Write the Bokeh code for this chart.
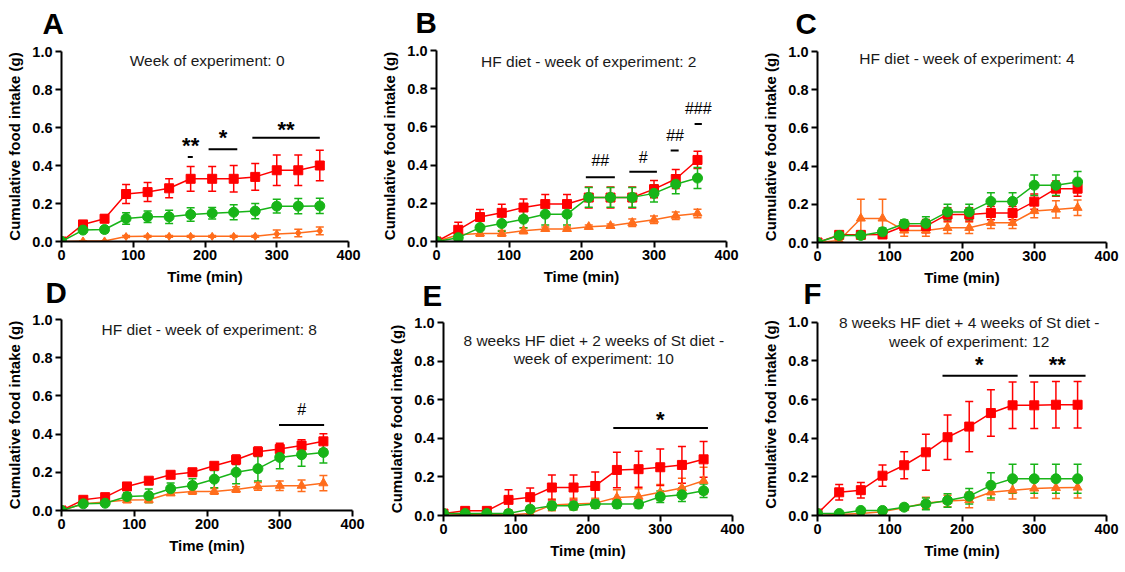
from bokeh.plotting import figure
from bokeh.models import (Range1d, FixedTicker, NumeralTickFormatter, Label,
                          Whisker, TeeHead, ColumnDataSource)
from bokeh.layouts import row, column
from bokeh.embed import file_html
from bokeh.resources import INLINE

FONT = "Liberation Sans"
RED = "#ff0000"
GREEN = "#18b418"
ORANGE = "#ff6d1c"

time_min = [0, 30, 60, 90, 120, 150, 180, 210, 240, 270, 300, 330, 360]

# ---- Panel A ----
A_red = [0, 0.09, 0.12, 0.25, 0.26, 0.28, 0.33, 0.33, 0.33, 0.34, 0.375, 0.375, 0.40]
A_red_err = [0, 0.01, 0.02, 0.05, 0.05, 0.05, 0.065, 0.065, 0.07, 0.07, 0.08, 0.08, 0.08]
A_green = [0, 0.06, 0.063, 0.121, 0.13, 0.13, 0.142, 0.149, 0.154, 0.16, 0.186, 0.186, 0.187]
A_green_err = [0, 0.01, 0.015, 0.03, 0.03, 0.035, 0.035, 0.03, 0.04, 0.04, 0.036, 0.04, 0.04]
A_orange = [0, 0.003, 0.003, 0.026, 0.027, 0.027, 0.027, 0.027, 0.027, 0.027, 0.04, 0.045, 0.056]
A_orange_err = [0, 0, 0, 0.005, 0.005, 0.005, 0.005, 0.005, 0.005, 0.005, 0.02, 0.02, 0.02]

# ---- Panel B ----
B_red = [0, 0.061, 0.128, 0.15, 0.178, 0.196, 0.196, 0.23, 0.23, 0.23, 0.274, 0.327, 0.427]
B_red_err = [0, 0.04, 0.04, 0.045, 0.045, 0.05, 0.05, 0.055, 0.055, 0.055, 0.045, 0.05, 0.045]
B_green = [0, 0.02, 0.073, 0.094, 0.117, 0.143, 0.143, 0.231, 0.231, 0.231, 0.252, 0.30, 0.332]
B_green_err = [0, 0.01, 0.035, 0.04, 0.045, 0.057, 0.057, 0.052, 0.052, 0.052, 0.045, 0.05, 0.055]
B_orange = [0, 0.035, 0.042, 0.042, 0.056, 0.066, 0.066, 0.077, 0.082, 0.098, 0.114, 0.135, 0.147]
B_orange_err = [0, 0.005, 0.015, 0.015, 0.015, 0.01, 0.01, 0.01, 0.01, 0.02, 0.02, 0.02, 0.022]

# ---- Panel C ----
C_red = [0, 0.04, 0.04, 0.042, 0.086, 0.086, 0.147, 0.147, 0.154, 0.154, 0.214, 0.282, 0.282]
C_red_err = [0, 0.01, 0.01, 0.01, 0.03, 0.035, 0.035, 0.035, 0.035, 0.035, 0.04, 0.04, 0.04]
C_green = [0, 0.037, 0.037, 0.056, 0.098, 0.10, 0.16, 0.16, 0.215, 0.215, 0.30, 0.30, 0.317]
C_green_err = [0, 0.01, 0.01, 0.02, 0.02, 0.035, 0.04, 0.04, 0.045, 0.045, 0.054, 0.054, 0.055]
C_orange = [0, 0.01, 0.126, 0.126, 0.063, 0.063, 0.077, 0.077, 0.103, 0.103, 0.165, 0.173, 0.182]
C_orange_err = [0, 0.01, 0.1, 0.1, 0.03, 0.03, 0.03, 0.03, 0.03, 0.03, 0.035, 0.045, 0.04]

# ---- Panel D ----
D_red = [0, 0.056, 0.07, 0.126, 0.156, 0.187, 0.2, 0.234, 0.266, 0.308, 0.322, 0.34, 0.362]
D_red_err = [0, 0.01, 0.01, 0.01, 0.015, 0.015, 0.02, 0.015, 0.025, 0.025, 0.03, 0.03, 0.04]
D_green = [0, 0.035, 0.038, 0.073, 0.077, 0.114, 0.131, 0.164, 0.2, 0.219, 0.278, 0.292, 0.304]
D_green_err = [0, 0.01, 0.01, 0.02, 0.035, 0.03, 0.035, 0.045, 0.06, 0.065, 0.06, 0.06, 0.055]
D_orange = [0, 0.035, 0.045, 0.055, 0.056, 0.09, 0.10, 0.10, 0.11, 0.126, 0.13, 0.13, 0.143]
D_orange_err = [0, 0.005, 0.005, 0.015, 0.015, 0.01, 0.015, 0.015, 0.015, 0.02, 0.025, 0.03, 0.04]

# ---- Panel E ----
E_red = [0.01, 0.024, 0.024, 0.081, 0.095, 0.145, 0.145, 0.153, 0.236, 0.24, 0.25, 0.262, 0.291]
E_red_err = [0.01, 0.01, 0.01, 0.052, 0.048, 0.065, 0.065, 0.073, 0.092, 0.093, 0.095, 0.095, 0.093]
E_green = [0.01, 0.01, 0.01, 0.01, 0.033, 0.05, 0.05, 0.059, 0.059, 0.059, 0.097, 0.107, 0.128]
E_green_err = [0.005, 0.005, 0.005, 0.005, 0.015, 0.02, 0.02, 0.02, 0.02, 0.02, 0.03, 0.035, 0.035]
E_orange = [0, 0.005, 0.005, 0.003, 0.01, 0.055, 0.06, 0.064, 0.093, 0.098, 0.12, 0.143, 0.18]
E_orange_err = [0, 0.005, 0.005, 0.005, 0.01, 0.03, 0.03, 0.025, 0.04, 0.04, 0.04, 0.05, 0.07]

# ---- Panel F ----
F_red = [0.01, 0.12, 0.131, 0.206, 0.26, 0.327, 0.405, 0.46, 0.53, 0.57, 0.57, 0.573, 0.573]
F_red_err = [0.01, 0.04, 0.04, 0.055, 0.07, 0.093, 0.115, 0.13, 0.12, 0.12, 0.12, 0.12, 0.12]
F_green = [0.01, 0.01, 0.026, 0.026, 0.043, 0.06, 0.078, 0.10, 0.156, 0.19, 0.19, 0.19, 0.19]
F_green_err = [0.005, 0.005, 0.005, 0.005, 0.015, 0.03, 0.035, 0.04, 0.065, 0.075, 0.075, 0.075, 0.075]
F_orange = [0, 0.005, 0.01, 0.02, 0.04, 0.065, 0.075, 0.08, 0.12, 0.13, 0.14, 0.143, 0.145]
F_orange_err = [0, 0.005, 0.005, 0.005, 0.01, 0.03, 0.03, 0.04, 0.04, 0.045, 0.05, 0.055, 0.055]

# Panel subtitles
titles = {
    "A": ["Week of experiment: 0"],
    "B": ["HF diet - week of experiment: 2"],
    "C": ["HF diet - week of experiment: 4"],
    "D": ["HF diet - week of experiment: 8"],
    "E": ["8 weeks HF diet + 2 weeks of St diet -", "week of experiment: 10"],
    "F": ["8 weeks HF diet + 4 weeks of St diet -", "week of experiment: 12"],
}

# Significance marks: (x start, x end, line level, text, text x, text centre level)
marks = {
    "A": [(176, 183, 0.445, "**", 180, 0.524), (205, 245, 0.485, "*", 225, 0.567),
          (266, 360, 0.546, "**", 313, 0.61)],
    "B": [(206, 246, 0.336, "##", 226, 0.423), (266, 304, 0.365, "#", 285, 0.44),
          (323, 334, 0.476, "##", 329, 0.554), (356, 366, 0.615, "###", 361, 0.694)],
    "C": [],
    "D": [(299, 361, 0.448, "#", 330, 0.528)],
    "E": [(235, 366, 0.453, "*", 300, 0.52)],
    "F": [(173, 277, 0.723, "*", 224, 0.80), (293, 371, 0.723, "**", 332, 0.80)],
}


def make_panel(key, series, orange_marker, title_pos, W, H, fig_top,
               frame_left, frame_w, y0_px, unit_px, y_end, letter_dx, letter_standoff):
    bt = int(round(y0_px - fig_top - y_end * unit_px))
    fh = int(round(y0_px - fig_top)) - bt
    p = figure(width=W, height=H, x_range=Range1d(0, 400), y_range=Range1d(0, y_end),
               output_backend="svg", toolbar_location=None,
               min_border_left=frame_left, min_border_top=bt,
               min_border_right=W - frame_left - frame_w, min_border_bottom=H - bt - fh)
    p.outline_line_color = None
    p.grid.visible = False
    p.background_fill_color = "white"
    p.border_fill_color = None
    p.background_fill_alpha = 0

    # panel letter
    p.title.text = key
    p.title.align = "left"
    p.title.offset = letter_dx
    p.title.standoff = letter_standoff
    p.title.text_font = FONT
    p.title.text_font_style = "bold"
    p.title.text_font_size = "29.5px"
    p.title.text_color = "black"

    p.xaxis.ticker = FixedTicker(ticks=[0, 100, 200, 300, 400])
    p.yaxis.ticker = FixedTicker(ticks=[0, 0.2, 0.4, 0.6, 0.8, 1.0])
    p.yaxis.formatter = NumeralTickFormatter(format="0.0")
    p.yaxis.bounds = (0, 1)
    p.xaxis.axis_label = "Time (min)"
    p.yaxis.axis_label = "Cumulative food intake (g)"
    for ax in (p.xaxis[0], p.yaxis[0]):
        ax.axis_line_width = 2
        ax.axis_line_color = "black"
        ax.major_tick_line_width = 2
        ax.major_tick_line_color = "black"
        ax.major_tick_out = 6
        ax.major_tick_in = 0
        ax.minor_tick_line_color = None
        ax.major_label_text_font = FONT
        ax.major_label_text_font_style = "bold"
        ax.major_label_text_font_size = "14.5px"
        ax.major_label_text_color = "black"
        ax.axis_label_text_font = FONT
        ax.axis_label_text_font_style = "bold"
        ax.axis_label_text_font_size = "15px"
        ax.axis_label_text_color = "black"
    p.xaxis.major_label_standoff = 2
    p.xaxis.axis_label_standoff = 5
    p.yaxis.major_label_standoff = 3
    p.yaxis.axis_label_standoff = 6

    red, red_err, green, green_err, orange, orange_err = series
    order = [(orange, orange_err, ORANGE, orange_marker, 9 if orange_marker == "triangle" else 8),
             (red, red_err, RED, "square", 9),
             (green, green_err, GREEN, "circle", 10)]
    for vals, errs, color, marker, size in order:
        src = ColumnDataSource(dict(
            t=time_min, v=vals,
            lo=[v - e for v, e in zip(vals, errs)],
            hi=[v + e for v, e in zip(vals, errs)]))
        p.add_layout(Whisker(base="t", lower="lo", upper="hi", source=src,
                             dimension="height", line_color=color, line_width=1.5,
                             upper_head=TeeHead(size=8, line_color=color, line_width=1.5),
                             lower_head=TeeHead(size=8, line_color=color, line_width=1.5)))
        p.line("t", "v", source=src, line_color=color, line_width=1.5)
        p.scatter("t", "v", source=src, marker=marker, size=size,
                  fill_color=color, line_color=color)

    for i, line in enumerate(titles[key]):
        tx, ty = title_pos[i]
        p.add_layout(Label(x=tx, y=ty, text=line, text_align="center",
                           text_baseline="middle", text_font=FONT,
                           text_font_size="15.5px", text_color="#1a1a1a"))

    for (x0, x1, yl, txt, xt, yc) in marks[key]:
        p.segment(x0=[x0], x1=[x1], y0=[yl], y1=[yl], line_color="black", line_width=2)
        if "*" in txt:
            p.add_layout(Label(x=xt, y=yc, y_offset=-4, text=txt, text_align="center",
                               text_baseline="middle", text_font=FONT,
                               text_font_style="bold", text_font_size="22px",
                               text_color="black"))
        else:
            p.add_layout(Label(x=xt, y=yc, text=txt, text_align="center",
                               text_baseline="middle", text_font=FONT,
                               text_font_size="16px", text_color="black"))
    return p


R1_TOP = -10     # first row starts slightly above the page edge
R2_TOP = 258     # second row overlaps the empty bottom strip of the first one
R1_H = 298
R2_H = 312

pA = make_panel("A", (A_red, A_red_err, A_green, A_green_err, A_orange, A_orange_err),
                "diamond", [(203, 0.953)], 375, R1_H, R1_TOP, 61, 287, 241, 190, 1.0, -19, 24)
pB = make_panel("B", (B_red, B_red_err, B_green, B_green_err, B_orange, B_orange_err),
                "triangle", [(210, 0.944)], 375, R1_H, R1_TOP, 61, 290, 241, 191, 1.0, -21, 24)
pC = make_panel("C", (C_red, C_red_err, C_green, C_green_err, C_orange, C_orange_err),
                "triangle", [(207, 0.965)], 373, R1_H, R1_TOP, 67, 289, 242, 191, 1.0, -22, 24)
pD = make_panel("D", (D_red, D_red_err, D_green, D_green_err, D_orange, D_orange_err),
                "triangle", [(203, 0.948)], 375, R2_H, R2_TOP, 61, 291, 510, 191, 1.0, -16, 22)
pE = make_panel("E", (E_red, E_red_err, E_green, E_green_err, E_orange, E_orange_err),
                "triangle", [(208, 0.909), (208, 0.816)], 375, R2_H, R2_TOP, 68, 289, 515, 193, 1.0, -21, 21)
pF = make_panel("F", (F_red, F_red_err, F_green, F_green_err, F_orange, F_orange_err),
                "triangle", [(210, 0.997), (210, 0.901)], 373, R2_H, R2_TOP, 67, 289, 515, 193, 1.045, -14, 8)

row1 = row(column(pA), column(pB), column(pC))
row2 = row(column(pD), column(pE), column(pF))
row1.margin = (R1_TOP, 0, 0, 0)
row2.margin = (R2_TOP - (R1_TOP + R1_H), 0, 0, 0)
layout = column(row1, row2)
open("out.html", "w").write(file_html(layout, INLINE))
